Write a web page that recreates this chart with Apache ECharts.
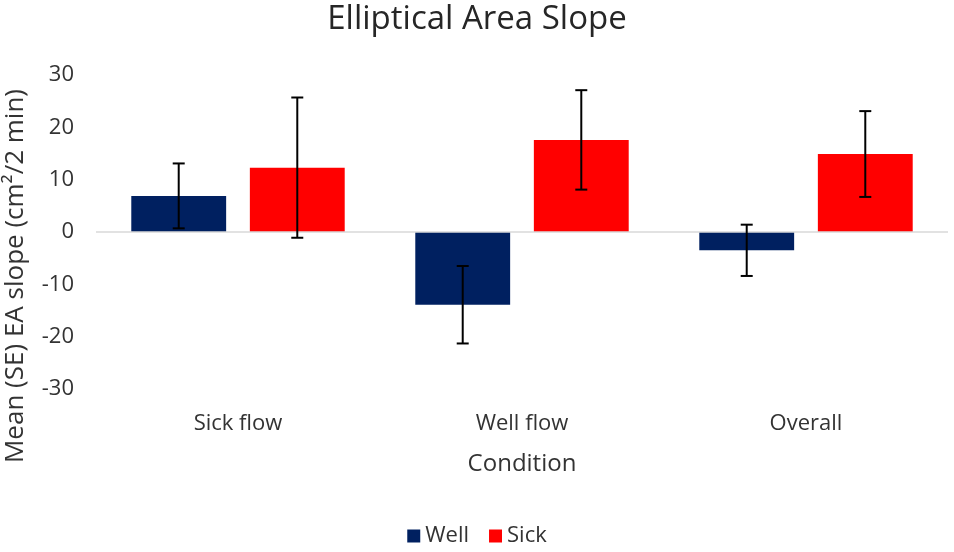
<!DOCTYPE html>
<html>
<head>
<meta charset="utf-8">
<script src="https://cdn.jsdelivr.net/npm/echarts@6/dist/echarts.min.js"></script>
<style>html,body{margin:0;padding:0;background:#fff}#c{width:954px;height:552px}</style>
</head>
<body>
<div id="c"></div>
<script>
const categories = ['Sick flow', 'Well flow', 'Overall'];
const seriesNames = ['Well', 'Sick'];
const wellMeans = [6.9, -13.9, -3.5];
const wellErrors = [6.2, 7.4, 4.9];
const sickMeans = [12.3, 17.6, 14.9];
const sickErrors = [13.4, 9.5, 8.2];
const yTicks = [-30, -20, -10, 0, 10, 20, 30];

const FONT = '"Open Sans", "Noto Sans", sans-serif';
const TXT = '#333333';
const chart = echarts.init(document.getElementById('c'));

function errData(means, errs) {
  return means.map((m, i) => [i, m - errs[i], m + errs[i]]);
}
function errSeries(name, means, errs, offsetIdx) {
  return {
    type: 'custom',
    name: name + ' error',
    data: errData(means, errs),
    z: 10,
    silent: true,
    renderItem: function (params, api) {
      const x = api.value(0);
      const lo = api.coord([x, api.value(1)]);
      const hi = api.coord([x, api.value(2)]);
      const bw = api.size([1, 0])[0];
      const barW = bw * 0.334;
      const gap = barW * 0.25;
      const off = (offsetIdx === 0 ? -1 : 1) * (barW / 2 + gap / 2);
      const cx = lo[0] + off;
      const cap = 6;
      const style = { stroke: '#000', lineWidth: 2 };
      return {
        type: 'group',
        children: [
          { type: 'line', shape: { x1: cx, y1: lo[1], x2: cx, y2: hi[1] }, style: style },
          { type: 'line', shape: { x1: cx - cap, y1: lo[1], x2: cx + cap, y2: lo[1] }, style: style },
          { type: 'line', shape: { x1: cx - cap, y1: hi[1], x2: cx + cap, y2: hi[1] }, style: style }
        ]
      };
    }
  };
}

chart.setOption({
  animation: false,
  textStyle: { fontFamily: FONT },
  title: {
    text: 'Elliptical Area Slope',
    left: 'center',
    top: -2,
    textStyle: { fontFamily: FONT, fontSize: 33, fontWeight: 'normal', color: '#262626' }
  },
  legend: {
    data: seriesNames,
    bottom: 0,
    left: 'center',
    itemWidth: 13,
    itemHeight: 13,
    itemGap: 20,
    icon: 'rect',
    textStyle: { fontFamily: FONT, fontSize: 22, color: TXT }
  },
  grid: { left: 96, right: 6, top: 75, bottom: 163 },
  xAxis: {
    type: 'category',
    data: categories,
    name: 'Condition',
    nameLocation: 'middle',
    nameGap: 28,
    nameTextStyle: { fontFamily: FONT, fontSize: 24, color: TXT },
    axisLine: { show: false },
    axisTick: { show: false },
    axisLabel: { fontFamily: FONT, fontSize: 22, color: TXT, margin: 0, verticalAlign: 'middle' },
    position: 'bottom',
    offset: 35
  },
  yAxis: {
    type: 'value',
    min: yTicks[0],
    max: yTicks[yTicks.length - 1],
    interval: 10,
    splitLine: { show: false },
    axisLine: { show: false },
    axisTick: { show: false },
    axisLabel: { fontFamily: FONT, fontSize: 22, color: TXT, margin: 22 }
  },
  graphic: [{
    type: 'text',
    left: 3,
    top: 'middle',
    rotation: Math.PI / 2,
    style: {
      text: 'Mean (SE) EA slope (cm²/2 min)',
      font: '26px ' + FONT,
      fill: TXT
    }
  }],
  series: [
    {
      name: seriesNames[0],
      type: 'bar',
      data: wellMeans,
      barWidth: '33.4%',
      barGap: '25%',
      itemStyle: { color: '#002060' },
      markLine: {
        silent: true,
        symbol: 'none',
        label: { show: false },
        lineStyle: { color: '#d9d9d9', type: 'solid', width: 1.5 },
        data: [{ yAxis: 0 }]
      }
    },
    {
      name: seriesNames[1],
      type: 'bar',
      data: sickMeans,
      barWidth: '33.4%',
      barGap: '25%',
      itemStyle: { color: '#ff0000' }
    },
    errSeries('Well', wellMeans, wellErrors, 0),
    errSeries('Sick', sickMeans, sickErrors, 1)
  ]
});
</script>
</body>
</html>
